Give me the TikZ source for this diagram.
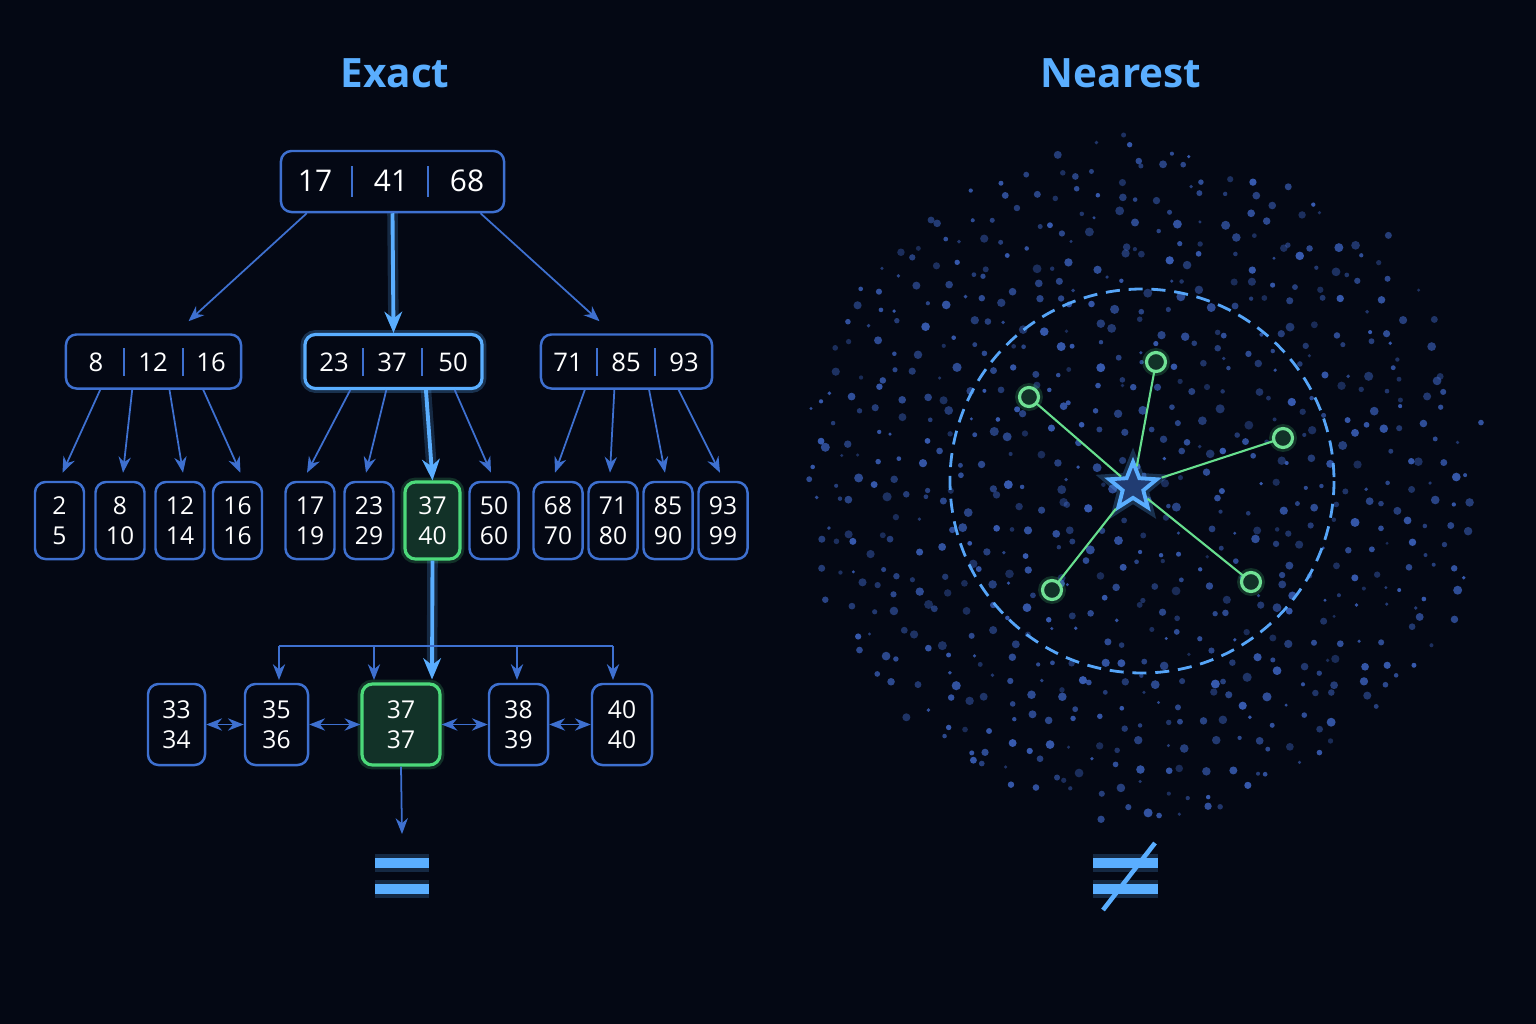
\documentclass[tikz,border=0pt]{standalone}
\usepackage{fontspec}
\setmainfont{Open Sans}
\usepackage{tikz}
\usetikzlibrary{arrows.meta,calc,shapes.geometric}
\definecolor{bg}{HTML}{040814}
\definecolor{edge}{HTML}{3E70D0}
\definecolor{hi}{HTML}{5AAEFF}
\definecolor{okgreen}{HTML}{4CD97A}
\definecolor{dot}{HTML}{3A5FB8}
\tikzset{
  box/.style={draw=edge,line width=0.7pt,rounded corners=3pt,fill=bg,text=white,
    font=\fontsize{7}{8.6}\selectfont,align=center,inner sep=0pt},
  leaf/.style={box,minimum width=0.49cm,minimum height=0.77cm},
  key/.style={box,minimum height=0.54cm},
  hot/.style={draw=hi,line width=0.9pt,preaction={draw=hi,line width=2.5pt,opacity=0.25}},
  found/.style={draw=okgreen,line width=0.9pt,fill=okgreen!20!bg,preaction={draw=okgreen,line width=2.5pt,opacity=0.2}},
  ptr/.style={-{Stealth[length=4.5pt,width=3.5pt]},edge,line width=0.5pt},
  hotptr/.style={-{Stealth[length=6pt,width=5pt]},hi,line width=1.1pt,
    preaction={draw=hi,line width=3pt,opacity=0.2}},
  sep/.style={edge,line width=0.5pt},
  title/.style={text=hi,font=\fontsize{11.5}{14}\selectfont\bfseries}
}
\begin{document}
\begin{tikzpicture}[x=0.01cm,y=-0.01cm]
\fill[bg] (0,0) rectangle (1536,1024);
\useasboundingbox (0,0) rectangle (1536,1024);

\node[title] (exact) at (395,73) {Exact};
\node[title] (nearest) at (1121,73) {Nearest};

% root
\node[key,minimum width=2.23cm,minimum height=0.61cm] (root) at (392.5,181.5) {};
\foreach \x/\t in {315/17,391/41,467/68} \node[text=white,font=\fontsize{8.5}{10}\selectfont] at (\x,181) {\t};
\foreach \x in {352,428} \draw[sep] (\x,166) -- (\x,197);

% inner level
\node[key,minimum width=1.75cm] (L) at (153.5,361.5) {};
\node[key,hot,minimum width=1.77cm] (M) at (393.5,361.5) {};
\node[key,minimum width=1.71cm] (R) at (626.5,361.5) {};
\foreach \x/\t in {96/8,153/12,211/16,334/23,392/37,453/50,568/71,626/85,684/93}
  \node[text=white,font=\fontsize{7.3}{9}\selectfont] at (\x,362) {\t};
\foreach \x in {124,183,363,422,597,655} \draw[sep] (\x,348) -- (\x,376);

\draw[ptr] ($(root.south west)!0.12!(root.south east)$) -- ($(L.north)+(35,-12)$);
\draw[hotptr] (root.south) -- (M.north);
\draw[ptr] ($(root.south west)!0.89!(root.south east)$) -- ($(R.north)+(-27,-12)$);

% leaves
\foreach \n/\x/\t in {a/59.5/{2\\5},b/120/{8\\10},c/180/{12\\14},d/237.5/{16\\16},
  e/310/{17\\19},f/369/{23\\29},h/494/{50\\60},
  i/558/{68\\70},j/613/{71\\80},k/668/{85\\90},l/723/{93\\99}}
  \node[leaf] (\n) at (\x,520.5) {\t};
\node[leaf,found,minimum width=0.55cm] (g) at (432.5,520.5) {37\\40};

\foreach \f/\n in {0.2/a,0.38/b,0.59/c,0.78/d}
  \draw[ptr] ($(L.south west)!\f!(L.south east)$) -- ($(\n.north)+(3,-8)$);
\foreach \f/\n in {0.26/e,0.46/f,0.84/h}
  \draw[ptr] ($(M.south west)!\f!(M.south east)$) -- ($(\n.north)+(-3,-8)$);
\draw[hotptr] ($(M.south west)!0.68!(M.south east)$) -- (g.north);
\foreach \f/\n in {0.26/i,0.43/j,0.63/k,0.8/l}
  \draw[ptr] ($(R.south west)!\f!(R.south east)$) -- ($(\n.north)+(-3,-8)$);

% linked leaf chain
\foreach \n/\x/\w/\t in {p/176.5/0.57/{33\\34},q/276.5/0.63/{35\\36},s/518.5/0.59/{38\\39},t/622/0.6/{40\\40}}
  \node[leaf,minimum width=\w cm,minimum height=0.81cm] (\n) at (\x,724.5) {\t};
\node[leaf,found,minimum width=0.78cm,minimum height=0.81cm] (r) at (401,724.5) {37\\37};

\draw[hotptr] (g.south) -- ($(r.north)+(31,-3)$);
\coordinate (bl) at (279,646);
\coordinate (br) at (613,646);
\draw[edge,line width=0.6pt] (bl) -- (br);
\foreach \n/\x in {q/279,r/374,s/517,t/613}
  \draw[ptr] (\x,646) -- (\x,680);
\foreach \u/\v in {p/q,q/r,r/s,s/t}
  \draw[{Stealth[length=4.5pt,width=3.5pt]}-{Stealth[length=4.5pt,width=3.5pt]},edge,line width=0.5pt] (\u) -- (\v);
\coordinate (eq) at (402,876);
\draw[ptr] (r.south) -- ($(eq)+(0,-42)$);
\foreach \dy in {-13,13}
  \draw[hi,line width=2.6pt,preaction={draw=hi,line width=5pt,opacity=0.2}] ($(eq)+(-27,\dy)$) -- ($(eq)+(27,\dy)$);

% point cloud (jittered grid)
\pgfmathsetseed{7}
\foreach \gx in {-350,-328,...,350}
  \foreach \gy in {-350,-328,...,350}{
    \pgfmathsetmacro\px{\gx+rand*10}
    \pgfmathsetmacro\py{\gy+rand*10}
    \pgfmathsetmacro\sz{1.6+rnd*3}
    \pgfmathsetmacro\op{0.4+rnd*0.55}
    \pgfmathparse{((\px/100)^2+(\py/100)^2)<(12.25-rnd*2)?1:0}
    \ifnum\pgfmathresult=1
      \fill[dot,opacity=\op] ({1140+\px},{480+\py}) circle (\sz);
    \fi
  }
\coordinate (c) at (1142,481);
\draw[hi!85!edge,line width=0.8pt,dash pattern=on 4pt off 2.5pt] (c) circle (192);

\node[star,star points=5,star point ratio=2.3,draw=hi,fill=edge!50!bg,line width=1.1pt,
  minimum size=0.5cm,inner sep=0pt,preaction={draw=hi,line width=3pt,opacity=0.25}] (q0) at (1133,487) {};
\foreach \n/\x/\y in {n1/1156/362,n2/1029/397,n3/1283/438,n4/1052/590,n5/1251/582}{
  \draw[okgreen!85!white,line width=0.6pt] (q0) -- (\x,\y);
  \node[circle,draw=okgreen!80!white,fill=okgreen!20!bg,line width=0.9pt,minimum size=0.19cm,inner sep=0pt,
    preaction={draw=okgreen,line width=2.5pt,opacity=0.2}] (\n) at (\x,\y) {};
}
\coordinate (ne) at (1125,876);
\foreach \dy in {-13,13}
  \draw[hi,line width=2.6pt,preaction={draw=hi,line width=5pt,opacity=0.2}] ($(ne)+(-32,\dy)$) -- ($(ne)+(33,\dy)$);
\draw[hi,line width=1.3pt] ($(ne)+(-22,34)$) -- ($(ne)+(30,-33)$);
\end{tikzpicture}
\end{document}
